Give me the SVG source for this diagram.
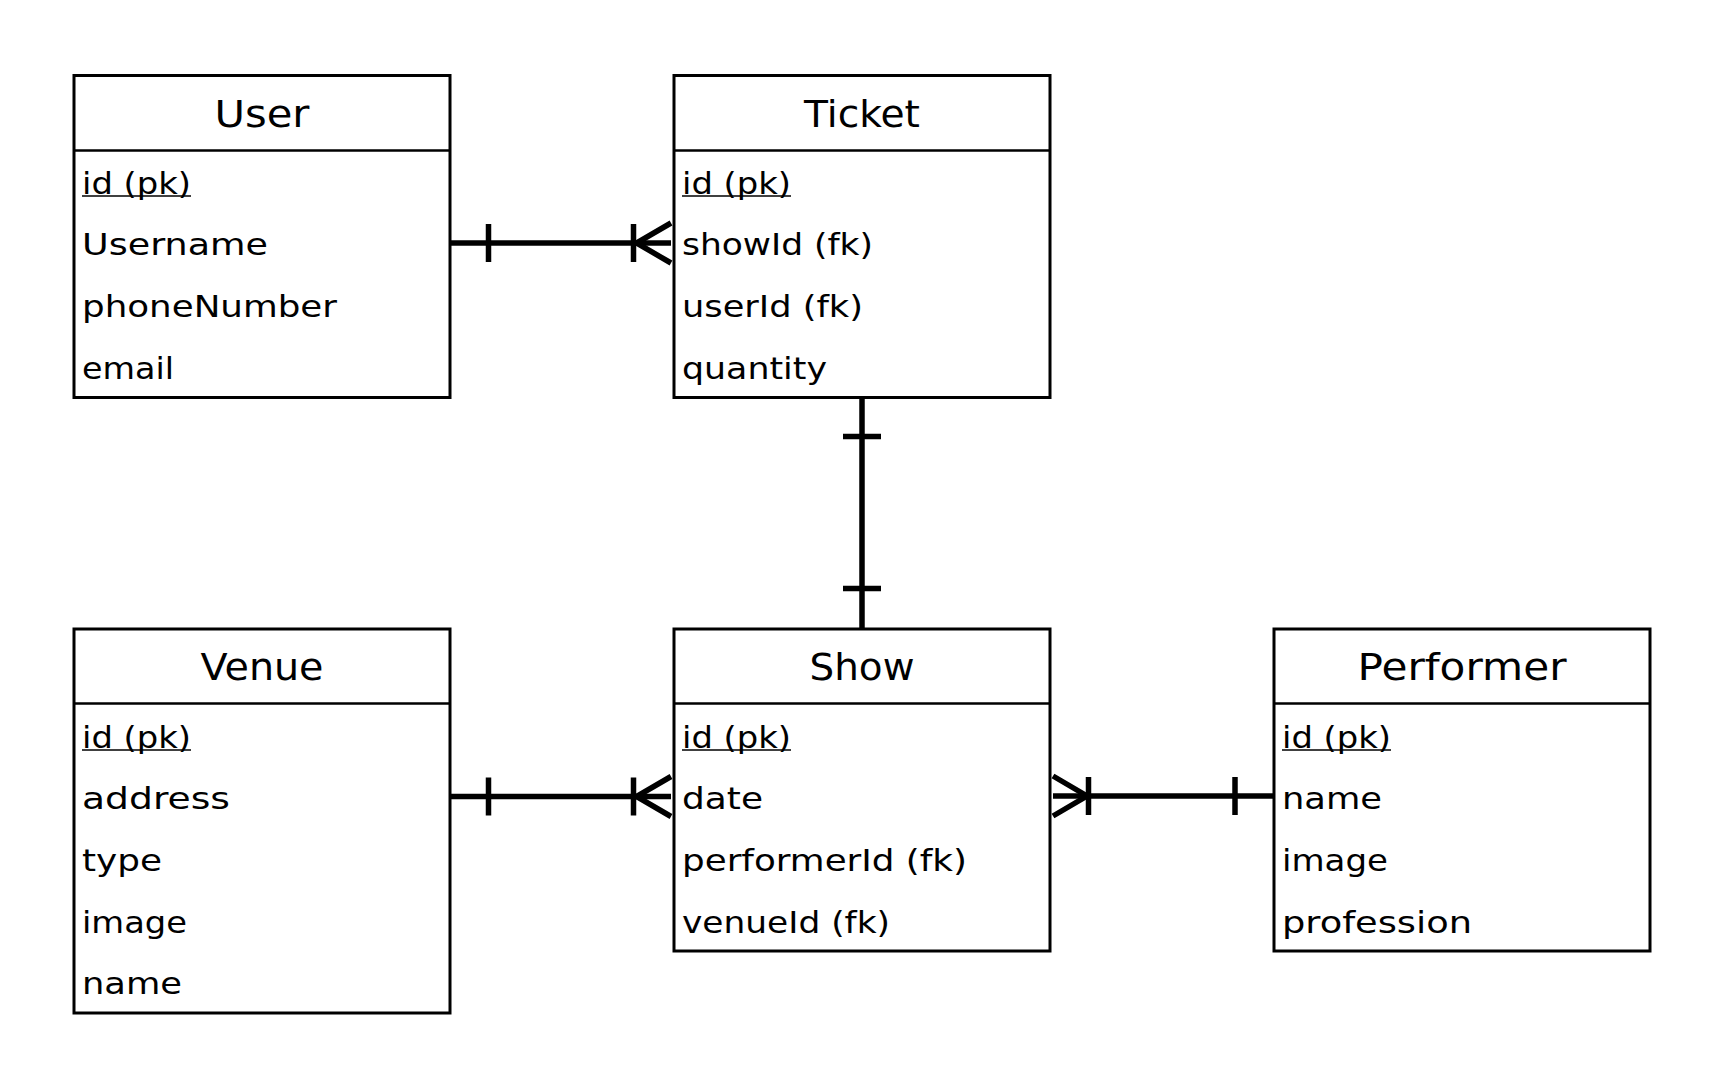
<svg xmlns="http://www.w3.org/2000/svg" width="1725" height="1088" viewBox="0 0 1725 1088">
<style>
.box{fill:#fff;stroke:#000;stroke-width:3}
.div{stroke:#000;stroke-width:2.5}
.title{font-family:"DejaVu Sans",sans-serif;font-size:38px;text-anchor:middle;fill:#000}
.f{font-family:"DejaVu Sans",sans-serif;font-size:30px;fill:#000}
.ul{stroke:#000;stroke-width:1.5}
.c{stroke:#000;stroke-width:5.5;fill:none}
</style>
<rect width="1725" height="1088" fill="#fff"/>
<g id="connectors">
  <g id="user-ticket">
    <line class="c" x1="450" y1="243" x2="671" y2="243"/>
    <line class="c" x1="488.5" y1="224" x2="488.5" y2="262"/>
    <line class="c" x1="633.5" y1="224" x2="633.5" y2="262"/>
    <polyline class="c" points="671,223 636.5,243 671,263"/>
  </g>
  <g id="ticket-show">
    <line class="c" x1="862" y1="398" x2="862" y2="629"/>
    <line class="c" x1="843" y1="436.5" x2="881" y2="436.5"/>
    <line class="c" x1="843" y1="588.5" x2="881" y2="588.5"/>
  </g>
  <g id="venue-show">
    <line class="c" x1="450" y1="796.5" x2="671" y2="796.5"/>
    <line class="c" x1="488.5" y1="777.5" x2="488.5" y2="815.5"/>
    <line class="c" x1="633.5" y1="777.5" x2="633.5" y2="815.5"/>
    <polyline class="c" points="671,776.5 636.5,796.5 671,816.5"/>
  </g>
  <g id="performer-show">
    <line class="c" x1="1053" y1="796" x2="1274" y2="796"/>
    <line class="c" x1="1088.5" y1="777" x2="1088.5" y2="815"/>
    <line class="c" x1="1235" y1="777" x2="1235" y2="815"/>
    <polyline class="c" points="1053,776 1087,796 1053,816"/>
  </g>
</g>
<g id="User">
  <rect class="box" x="74" y="75.5" width="376" height="322"/>
  <line class="div" x1="74" y1="150.5" x2="450" y2="150.5"/>
  <text class="title" x="262" y="127" textLength="95" lengthAdjust="spacingAndGlyphs">User</text>
  <text class="f" x="82" y="193.5" textLength="109" lengthAdjust="spacingAndGlyphs">id (pk)</text>
  <line class="ul" x1="82" y1="196" x2="191" y2="196"/>
  <text class="f" x="82" y="255.2" textLength="186" lengthAdjust="spacingAndGlyphs">Username</text>
  <text class="f" x="82" y="316.9" textLength="255" lengthAdjust="spacingAndGlyphs">phoneNumber</text>
  <text class="f" x="82" y="378.6" textLength="92" lengthAdjust="spacingAndGlyphs">email</text>
</g>
<g id="Ticket">
  <rect class="box" x="674" y="75.5" width="376" height="322"/>
  <line class="div" x1="674" y1="150.5" x2="1050" y2="150.5"/>
  <text class="title" x="862" y="127" textLength="116" lengthAdjust="spacingAndGlyphs">Ticket</text>
  <text class="f" x="682" y="193.5" textLength="109" lengthAdjust="spacingAndGlyphs">id (pk)</text>
  <line class="ul" x1="682" y1="196" x2="791" y2="196"/>
  <text class="f" x="682" y="255.2" textLength="191" lengthAdjust="spacingAndGlyphs">showId (fk)</text>
  <text class="f" x="682" y="316.9" textLength="181" lengthAdjust="spacingAndGlyphs">userId (fk)</text>
  <text class="f" x="682" y="378.6" textLength="145" lengthAdjust="spacingAndGlyphs">quantity</text>
</g>
<g id="Venue">
  <rect class="box" x="74" y="629" width="376" height="384"/>
  <line class="div" x1="74" y1="703.5" x2="450" y2="703.5"/>
  <text class="title" x="262" y="680" textLength="123" lengthAdjust="spacingAndGlyphs">Venue</text>
  <text class="f" x="82" y="747.5" textLength="109" lengthAdjust="spacingAndGlyphs">id (pk)</text>
  <line class="ul" x1="82" y1="750" x2="191" y2="750"/>
  <text class="f" x="82" y="809.2" textLength="148" lengthAdjust="spacingAndGlyphs">address</text>
  <text class="f" x="82" y="870.9" textLength="80" lengthAdjust="spacingAndGlyphs">type</text>
  <text class="f" x="82" y="932.6" textLength="105" lengthAdjust="spacingAndGlyphs">image</text>
  <text class="f" x="82" y="994.3" textLength="100" lengthAdjust="spacingAndGlyphs">name</text>
</g>
<g id="Show">
  <rect class="box" x="674" y="629" width="376" height="322"/>
  <line class="div" x1="674" y1="703.5" x2="1050" y2="703.5"/>
  <text class="title" x="862" y="680" textLength="105" lengthAdjust="spacingAndGlyphs">Show</text>
  <text class="f" x="682" y="747.5" textLength="109" lengthAdjust="spacingAndGlyphs">id (pk)</text>
  <line class="ul" x1="682" y1="750" x2="791" y2="750"/>
  <text class="f" x="682" y="809.2" textLength="81" lengthAdjust="spacingAndGlyphs">date</text>
  <text class="f" x="682" y="870.9" textLength="285" lengthAdjust="spacingAndGlyphs">performerId (fk)</text>
  <text class="f" x="682" y="932.6" textLength="208" lengthAdjust="spacingAndGlyphs">venueId (fk)</text>
</g>
<g id="Performer">
  <rect class="box" x="1274" y="629" width="376" height="322"/>
  <line class="div" x1="1274" y1="703.5" x2="1650" y2="703.5"/>
  <text class="title" x="1462" y="680" textLength="209" lengthAdjust="spacingAndGlyphs">Performer</text>
  <text class="f" x="1282" y="747.5" textLength="109" lengthAdjust="spacingAndGlyphs">id (pk)</text>
  <line class="ul" x1="1282" y1="750" x2="1391" y2="750"/>
  <text class="f" x="1282" y="809.2" textLength="100" lengthAdjust="spacingAndGlyphs">name</text>
  <text class="f" x="1282" y="870.9" textLength="106" lengthAdjust="spacingAndGlyphs">image</text>
  <text class="f" x="1282" y="932.6" textLength="190" lengthAdjust="spacingAndGlyphs">profession</text>
</g>
</svg>
